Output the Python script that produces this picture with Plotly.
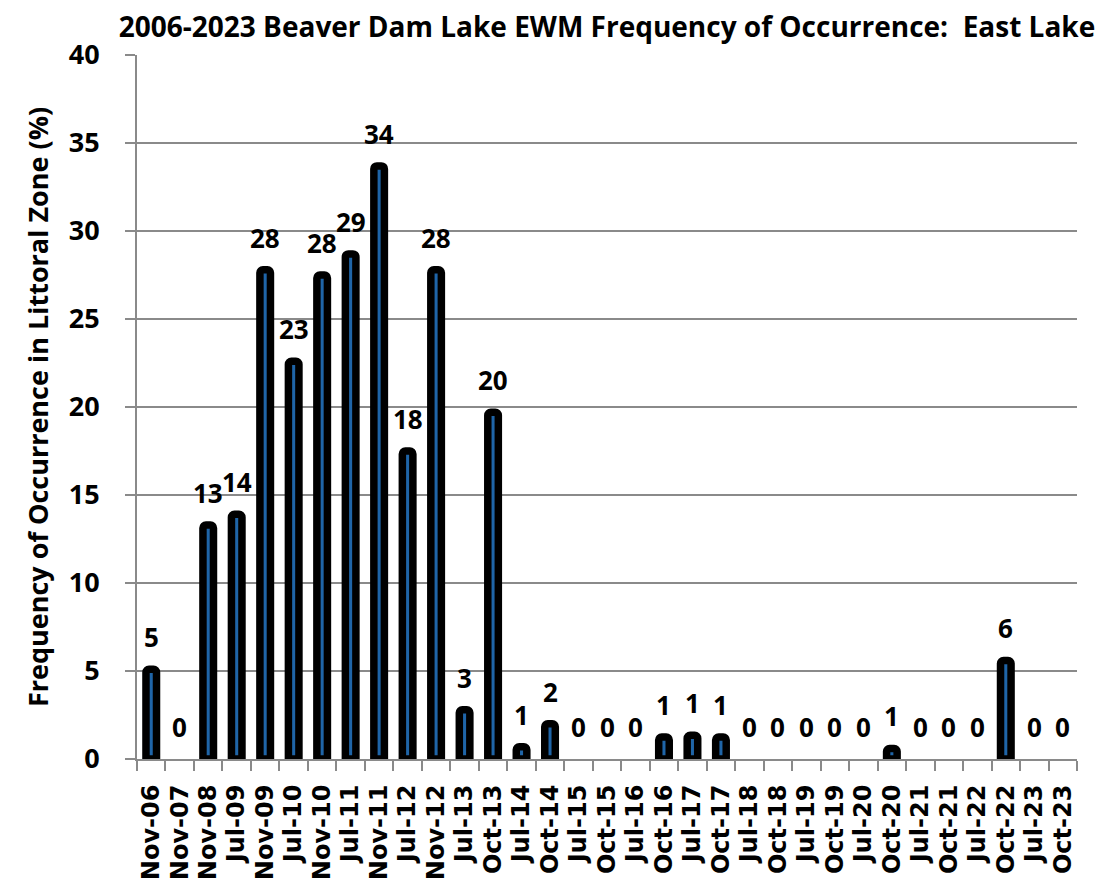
import plotly.graph_objects as go

categories = ["Nov-06", "Nov-07", "Nov-08", "Jul-09", "Nov-09", "Jul-10", "Nov-10", "Jul-11",
              "Nov-11", "Jul-12", "Nov-12", "Jul-13", "Oct-13", "Jul-14", "Oct-14", "Jul-15",
              "Oct-15", "Jul-16", "Oct-16", "Jul-17", "Oct-17", "Jul-18", "Oct-18", "Jul-19",
              "Oct-19", "Jul-20", "Oct-20", "Jul-21", "Oct-21", "Jul-22", "Oct-22", "Jul-23", "Oct-23"]
values = [5.1, 0, 13.3, 13.9, 27.8, 22.6, 27.5, 28.7,
          33.7, 17.5, 27.8, 2.8, 19.7, 0.7, 2.0, 0,
          0, 0, 1.25, 1.35, 1.25, 0, 0, 0,
          0, 0, 0.6, 0, 0, 0, 5.6, 0, 0]
labels = [str(int(round(v))) if v >= 1 or v == 0 else "1" for v in values]

title_text = "2006-2023 Beaver Dam Lake EWM Frequency of Occurrence:  East Lake"
y_title = "Frequency of Occurrence in Littoral Zone (%)"
y_ticks = [0, 5, 10, 15, 20, 25, 30, 35, 40]

GRID = "#8a8a8a"

bar_values = [v if v > 0 else None for v in values]

fig = go.Figure()
fig.add_trace(go.Bar(
    x=categories, y=bar_values, width=0.37,
    marker=dict(color="#1f65a8", line=dict(color="black", width=7.5), cornerradius=3),
    hoverinfo="x+y",
))

for c, v, t in zip(categories, values, labels):
    fig.add_annotation(x=c, y=v, text=t, showarrow=False, yanchor="middle", yshift=32,
                       font=dict(family="Open Sans", size=26, color="black", weight="bold"))

# the page body adds an 8px offset at top/left, so the figure is 8px smaller
fig.update_layout(
    width=1110, height=877,
    margin=dict(l=129, r=41, t=47, b=126, autoexpand=False),
    paper_bgcolor="white", plot_bgcolor="white",
    showlegend=False,
    title=dict(text=title_text, x=0.5, xref="paper", xanchor="center", y=1 - 19 / 877,
               yref="container", yanchor="middle", automargin=False,
               font=dict(family="Open Sans", size=28, color="black", weight="bold")),
)

fig.update_xaxes(
    type="category", tickangle=-90, automargin=False,
    tickmode="linear", tick0=0, dtick=1,
    tickfont=dict(family="DejaVu Sans", size=24, color="black", weight="bold"),
    showline=True, linecolor=GRID, linewidth=2,
    ticks="outside", tickson="boundaries", ticklen=10, tickcolor=GRID, tickwidth=2,
    showgrid=False, ticklabelstandoff=14,
)
fig.update_yaxes(
    range=[0, 40], tickvals=y_ticks, automargin=False,
    tickfont=dict(family="Open Sans", size=27, color="black", weight="bold"),
    showline=True, linecolor=GRID, linewidth=2,
    ticks="outside", ticklen=10, tickcolor=GRID, tickwidth=2,
    showgrid=True, gridcolor=GRID, gridwidth=2,
    zeroline=False, ticklabelstandoff=20,
    title=dict(text=y_title, standoff=12,
               font=dict(family="Open Sans", size=27, color="black", weight="bold")),
)

fig.write_html("out.html")
